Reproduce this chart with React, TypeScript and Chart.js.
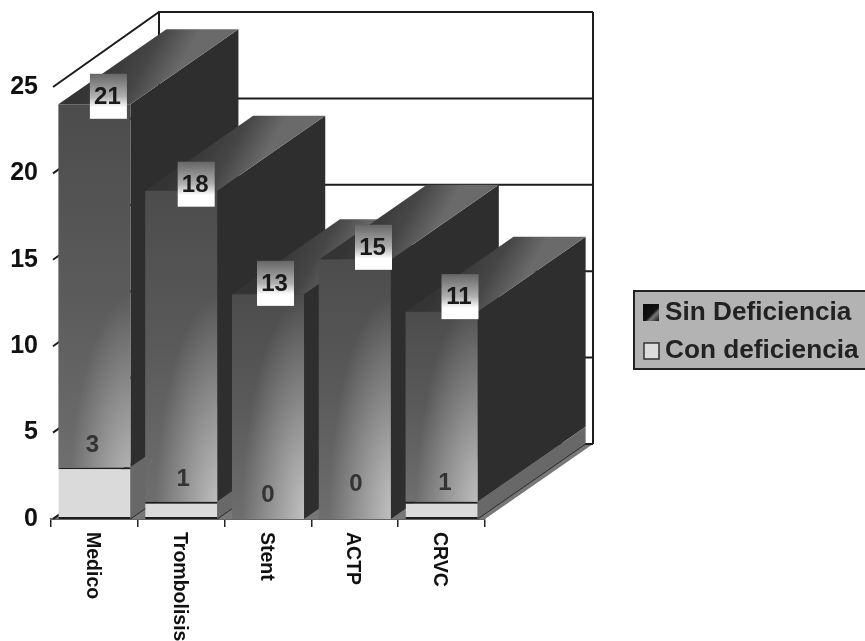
import React, { useEffect, useRef } from "react";
import { Chart, registerables } from "chart.js";

Chart.register(...registerables);

const categories = ["Medico", "Trombolisis", "Stent", "ACTP", "CRVC"];
const conDeficiencia = [3, 1, 0, 0, 1];
const sinDeficiencia = [21, 18, 13, 15, 11];
const yTicks = [0, 5, 10, 15, 20, 25];

// Callout placement around each bar, in pixels from the bar's centre and segment top.
const upperLabelShift = [[14, -8], [15, -6.5], [7.5, -11], [18.7, -12.5], [18.4, -15]];
const lowerLabelShift = [[-2, -22], [2, -22], [0, -24], [1, -35], [3.4, -18]];

const DEPTH_X = 108;
const DEPTH_Y = -75;
const FONT = '"Liberation Sans", Arial, sans-serif';

function poly(ctx: CanvasRenderingContext2D, pts: number[][], fill: any) {
  ctx.beginPath();
  pts.forEach(([x, y], i) => (i ? ctx.lineTo(x, y) : ctx.moveTo(x, y)));
  ctx.closePath();
  ctx.fillStyle = fill;
  ctx.fill();
}

const walls = {
  id: "walls",
  beforeDatasetsDraw(chart: any) {
    const { ctx, scales } = chart;
    const { x, y } = scales;
    const zero = y.getPixelForValue(0);
    ctx.save();
    // floor
    poly(
      ctx,
      [
        [x.left, zero],
        [x.right, zero],
        [x.right + DEPTH_X, zero + DEPTH_Y],
        [x.left + DEPTH_X, zero + DEPTH_Y],
      ],
      "#777777"
    );
    // back wall lines and the side-wall lines running towards them
    ctx.strokeStyle = "#1c1c1c";
    ctx.lineWidth = 2;
    yTicks.forEach((v) => {
      const py = y.getPixelForValue(v);
      ctx.beginPath();
      ctx.moveTo(x.left + 2, py);
      ctx.lineTo(x.left + DEPTH_X, py + DEPTH_Y);
      ctx.lineTo(x.right + DEPTH_X, py + DEPTH_Y);
      ctx.stroke();
    });
    const top = y.getPixelForValue(25) + DEPTH_Y;
    ctx.beginPath();
    ctx.moveTo(x.left + DEPTH_X, top);
    ctx.lineTo(x.left + DEPTH_X, zero + DEPTH_Y);
    ctx.moveTo(x.right + DEPTH_X, top);
    ctx.lineTo(x.right + DEPTH_X, zero + DEPTH_Y);
    ctx.stroke();

    // side and top faces, back to front from left to right
    const bars = chart.getDatasetMeta(0).data;
    categories.forEach((_, i) => {
      const half = bars[i].width / 2;
      const l = bars[i].x - half;
      const r = bars[i].x + half;
      const yMid = y.getPixelForValue(conDeficiencia[i]);
      const yTop = y.getPixelForValue(conDeficiencia[i] + sinDeficiencia[i]);
      poly(
        ctx,
        [
          [r, yTop],
          [r + DEPTH_X, yTop + DEPTH_Y],
          [r + DEPTH_X, yMid + DEPTH_Y],
          [r, yMid],
        ],
        "#2e2e2e"
      );
      if (conDeficiencia[i] > 0) {
        poly(
          ctx,
          [
            [r, yMid],
            [r + DEPTH_X, yMid + DEPTH_Y],
            [r + DEPTH_X, zero + DEPTH_Y],
            [r, zero],
          ],
          "#686868"
        );
        ctx.strokeStyle = "#2a2a2a";
        ctx.lineWidth = 1;
        ctx.beginPath();
        ctx.moveTo(r, zero);
        ctx.lineTo(r + DEPTH_X, zero + DEPTH_Y);
        ctx.stroke();
      }
      const g = ctx.createLinearGradient(l + 30, yTop - 20, r + 20, yTop + 15);
      g.addColorStop(0, "#343434");
      g.addColorStop(0.55, "#464646");
      g.addColorStop(1, "#6a6a6a");
      poly(
        ctx,
        [
          [l, yTop],
          [r, yTop],
          [r + DEPTH_X, yTop + DEPTH_Y],
          [l + DEPTH_X, yTop + DEPTH_Y],
        ],
        g
      );
    });
    ctx.restore();
  },
  afterDatasetsDraw(chart: any) {
    const { ctx, scales } = chart;
    const { y } = scales;
    const zero = y.getPixelForValue(0);
    const bars = chart.getDatasetMeta(0).data;
    ctx.save();
    categories.forEach((_, i) => {
      const half = bars[i].width / 2;
      const cx = bars[i].x;
      const l = cx - half;
      const r = cx + half;
      const yMid = y.getPixelForValue(conDeficiencia[i]);
      const yTop = y.getPixelForValue(conDeficiencia[i] + sinDeficiencia[i]);

      // soft highlight rising from the lower right corner of the front face
      ctx.save();
      ctx.beginPath();
      ctx.rect(l, yTop, r - l, yMid - yTop);
      ctx.clip();
      ctx.translate(r + 4, zero);
      ctx.scale(1, 3.4);
      const glow = ctx.createRadialGradient(0, 0, 0, 0, 0, 66);
      glow.addColorStop(0, "rgba(255,255,255,0.6)");
      glow.addColorStop(0.5, "rgba(255,255,255,0.3)");
      glow.addColorStop(1, "rgba(255,255,255,0)");
      ctx.fillStyle = glow;
      ctx.fillRect(-100, -200, 200, 220);
      ctx.restore();

      // value of the upper segment, on its shaded tag
      const [ux, uy] = upperLabelShift[i];
      const bx = cx + ux;
      const by = yTop + uy;
      const tag = ctx.createLinearGradient(0, by - 22.5, 0, by + 22.5);
      tag.addColorStop(0, "#666666");
      tag.addColorStop(0.5, "#b0b0b0");
      tag.addColorStop(0.75, "#ffffff");
      tag.addColorStop(1, "#ffffff");
      ctx.fillStyle = tag;
      ctx.fillRect(bx - 18.5, by - 22.5, 37, 45);
      ctx.fillStyle = "#1a1a1a";
      ctx.font = `bold 24px ${FONT}`;
      ctx.textAlign = "center";
      ctx.textBaseline = "middle";
      ctx.fillText(String(sinDeficiencia[i]), bx - 1, by + 1);

      // value of the lower segment, printed straight on the bar
      const [lx, ly] = lowerLabelShift[i];
      ctx.fillStyle = "#333333";
      ctx.fillText(String(conDeficiencia[i]), cx + lx, yMid + ly);

      // rotated category name
      ctx.save();
      ctx.translate(cx - 2, zero + 13);
      ctx.rotate(Math.PI / 2);
      ctx.textAlign = "left";
      ctx.fillStyle = "#111111";
      ctx.font = `bold 19.5px ${FONT}`;
      ctx.fillText(categories[i], 0, 0);
      ctx.restore();
    });

    // legend panel
    const lgTop = 291;
    const lgBottom = 369;
    ctx.fillStyle = "#b3b3b3";
    ctx.fillRect(634, lgTop, 240, lgBottom - lgTop);
    ctx.strokeStyle = "#222222";
    ctx.lineWidth = 2;
    ctx.strokeRect(634, lgTop, 240, lgBottom - lgTop);

    const mark = ctx.createLinearGradient(644, 305, 659, 320);
    mark.addColorStop(0, "#0a0a0a");
    mark.addColorStop(0.55, "#111111");
    mark.addColorStop(0.7, "#777777");
    mark.addColorStop(1, "#222222");
    ctx.fillStyle = mark;
    ctx.fillRect(643, 304, 16, 17);
    ctx.fillStyle = "#dcdcdc";
    ctx.fillRect(644, 343, 15, 16);
    ctx.strokeStyle = "#333333";
    ctx.lineWidth = 1.5;
    ctx.strokeRect(644, 343, 15, 16);

    ctx.fillStyle = "#222222";
    ctx.font = `bold 26.2px ${FONT}`;
    ctx.textAlign = "left";
    ctx.textBaseline = "middle";
    ctx.fillText(chart.data.datasets[1].label, 665, 313);
    ctx.fillText(chart.data.datasets[0].label, 665, 351);
    ctx.restore();
  },
};

export default function App() {
  const canvasRef = useRef<HTMLCanvasElement>(null);

  useEffect(() => {
    const chart = new Chart(canvasRef.current as HTMLCanvasElement, {
      type: "bar",
      data: {
        labels: categories,
        datasets: [
          {
            label: "Con deficiencia",
            data: conDeficiencia,
            backgroundColor: "#dadada",
            borderColor: "#1e1e1e",
            borderWidth: (c: any) =>
              conDeficiencia[c.dataIndex] > 0 ? { top: 2, left: 0, right: 0, bottom: 2 } : 0,
            borderSkipped: false,
            barPercentage: 0.83,
            categoryPercentage: 1,
          },
          {
            label: "Sin Deficiencia",
            data: sinDeficiencia,
            backgroundColor: (c: any) => {
              const { chart: ch, dataIndex } = c;
              if (!ch.chartArea || dataIndex === undefined) return "#666666";
              const y = ch.scales.y;
              const base = conDeficiencia[dataIndex];
              const g = ch.ctx.createLinearGradient(
                0,
                y.getPixelForValue(base + sinDeficiencia[dataIndex]),
                0,
                y.getPixelForValue(base)
              );
              g.addColorStop(0, "#4c4c4c");
              g.addColorStop(0.5, "#5a5a5a");
              g.addColorStop(1, "#6e6e6e");
              return g;
            },
            borderWidth: 0,
            barPercentage: 0.83,
            categoryPercentage: 1,
          },
        ],
      },
      options: {
        responsive: false,
        animation: false,
        layout: { autoPadding: false, padding: { left: 0, top: 87, right: 380, bottom: 0 } },
        plugins: { legend: { display: false }, tooltip: { enabled: false } },
        scales: {
          x: {
            stacked: true,
            afterFit: (s: any) => {
              s.height = 122;
            },
            grid: { drawOnChartArea: false, drawTicks: true, tickLength: 8, color: "#222222", lineWidth: 1.5 },
            border: { display: true, color: "#666666", width: 2 },
            ticks: { display: false },
          },
          y: {
            stacked: true,
            min: 0,
            max: 25,
            afterFit: (s: any) => {
              s.width = 51;
            },
            afterBuildTicks: (s: any) => {
              s.ticks = yTicks.map((value) => ({ value }));
            },
            grid: { display: false },
            border: { display: false },
            ticks: {
              padding: 5,
              color: "#111111",
              font: { family: FONT, size: 25, weight: "bold" },
            },
          },
        },
      },
      plugins: [walls],
    } as any);
    return () => chart.destroy();
  }, []);

  return (
    <canvas
      ref={canvasRef}
      width={865}
      height={641}
      style={{ position: "absolute", left: 0, top: 0, display: "block", background: "#ffffff" }}
    />
  );
}
